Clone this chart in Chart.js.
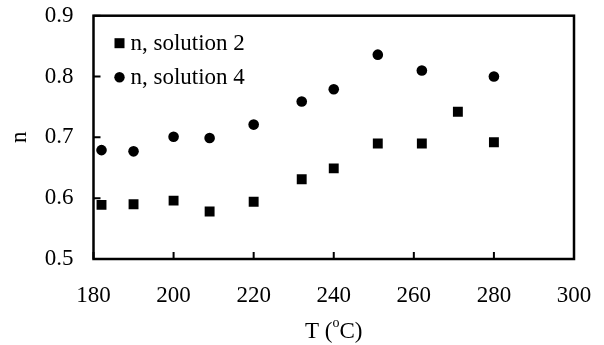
<!DOCTYPE html>
<html>
<head>
<meta charset="utf-8">
<script src="https://cdn.jsdelivr.net/npm/chart.js@4.4.1/dist/chart.umd.min.js"></script>
<style>
  html, body { margin: 0; padding: 0; background: #fff; }
  #box { width: 604px; height: 345px; }
</style>
</head>
<body>
<div id="box"><canvas id="chart" width="604" height="345"></canvas></div>
<script>
// temperatures (°C) and exponent n
var tempSol2 = [182, 190, 200, 209, 220, 232, 240, 251, 262, 271, 280];
var nSol2    = [0.589, 0.590, 0.596, 0.578, 0.594, 0.631, 0.649, 0.690, 0.690, 0.742, 0.692];
var tempSol4 = [182, 190, 200, 209, 220, 232, 240, 251, 262, 280];
var nSol4    = [0.679, 0.677, 0.701, 0.699, 0.721, 0.759, 0.779, 0.836, 0.810, 0.800];

var seriesNames = ["n, solution 2", "n, solution 4"];
var xRange = [180, 300], xStep = 20;
var yRange = [0.5, 0.9], yStep = 0.1;

var FONT = "'Liberation Serif', 'Times New Roman', serif";
var FSIZE = 23;

function toPoints(xs, ys) {
    return xs.map(function(x, i) { return { x: x, y: ys[i] }; });
}

// frame, inward tick marks, in-plot legend and x title with superscript
var decor = {
    id: 'decor',
    afterDraw: function(chart) {
        var ctx = chart.ctx, a = chart.chartArea;
        var xs = chart.scales.x, ys = chart.scales.y;
        ctx.save();
        ctx.strokeStyle = '#000';
        ctx.lineWidth = 2.5;
        ctx.strokeRect(a.left, a.top, a.right - a.left, a.bottom - a.top);

        ctx.lineWidth = 2;
        ctx.beginPath();
        xs.ticks.forEach(function(t) {
            var px = xs.getPixelForValue(t.value);
            ctx.moveTo(px, a.bottom);
            ctx.lineTo(px, a.bottom - 7);
        });
        ys.ticks.forEach(function(t) {
            var py = ys.getPixelForValue(t.value);
            ctx.moveTo(a.left, py);
            ctx.lineTo(a.left + 7, py);
        });
        ctx.stroke();

        // legend
        ctx.fillStyle = '#000';
        ctx.font = FSIZE + 'px ' + FONT;
        ctx.textBaseline = 'alphabetic';
        ctx.textAlign = 'left';
        var lx = a.left + 26, ly = a.top + 27.5;
        ctx.fillRect(lx - 5, ly - 5, 10, 10);
        ctx.fillText(seriesNames[0], lx + 11, ly + 6.5);
        ly += 34;
        ctx.beginPath();
        ctx.arc(lx, ly, 5.2, 0, Math.PI * 2);
        ctx.fill();
        ctx.fillText(seriesNames[1], lx + 11, ly + 6.5);

        // x axis title: T (oC) with raised o
        var cx = (a.left + a.right) / 2, by = 337.5;
        var p1 = 'T (', p2 = 'o', p3 = 'C)';
        ctx.font = FSIZE + 'px ' + FONT;
        var w1 = ctx.measureText(p1).width, w3 = ctx.measureText(p3).width;
        ctx.font = '14px ' + FONT;
        var w2 = ctx.measureText(p2).width;
        var sx = cx - (w1 + w2 + w3) / 2;
        ctx.font = FSIZE + 'px ' + FONT;
        ctx.fillText(p1, sx, by);
        ctx.font = '14px ' + FONT;
        ctx.fillText(p2, sx + w1, by - 11);
        ctx.font = FSIZE + 'px ' + FONT;
        ctx.fillText(p3, sx + w1 + w2, by);
        ctx.restore();
    }
};

new Chart(document.getElementById('chart').getContext('2d'), {
    type: 'scatter',
    data: {
        datasets: [
            {
                label: seriesNames[0],
                data: toPoints(tempSol2, nSol2),
                pointStyle: 'rect',
                pointRadius: 7,
                backgroundColor: '#000',
                borderColor: '#000',
                borderWidth: 0
            },
            {
                label: seriesNames[1],
                data: toPoints(tempSol4, nSol4),
                pointStyle: 'circle',
                pointRadius: 5.3,
                backgroundColor: '#000',
                borderColor: '#000',
                borderWidth: 0
            }
        ]
    },
    options: {
        responsive: false,
        animation: false,
        layout: { padding: 0 },
        plugins: {
            legend: { display: false },
            tooltip: { enabled: false }
        },
        scales: {
            x: {
                type: 'linear',
                min: xRange[0],
                max: xRange[1],
                ticks: {
                    stepSize: xStep,
                    color: '#000',
                    padding: 15,
                    maxRotation: 0,
                    font: { family: FONT, size: FSIZE }
                },
                grid: { display: false },
                border: { display: false },
                afterFit: function(scale) {
                    scale.height = 86;
                    scale.paddingLeft = 0;
                    scale.paddingRight = 30;
                }
            },
            y: {
                min: yRange[0],
                max: yRange[1],
                ticks: {
                    stepSize: yStep,
                    color: '#000',
                    padding: 12,
                    font: { family: FONT, size: FSIZE },
                    callback: function(v) { return v.toFixed(1); }
                },
                grid: { display: false },
                border: { display: false },
                title: {
                    display: true,
                    text: 'n',
                    color: '#000',
                    padding: { top: 6, bottom: 0 },
                    font: { family: FONT, size: FSIZE }
                },
                afterFit: function(scale) {
                    scale.width = 93.5;
                    scale.paddingTop = 15.7;
                    scale.paddingBottom = 0;
                }
            }
        }
    },
    plugins: [decor]
});
</script>
</body>
</html>
